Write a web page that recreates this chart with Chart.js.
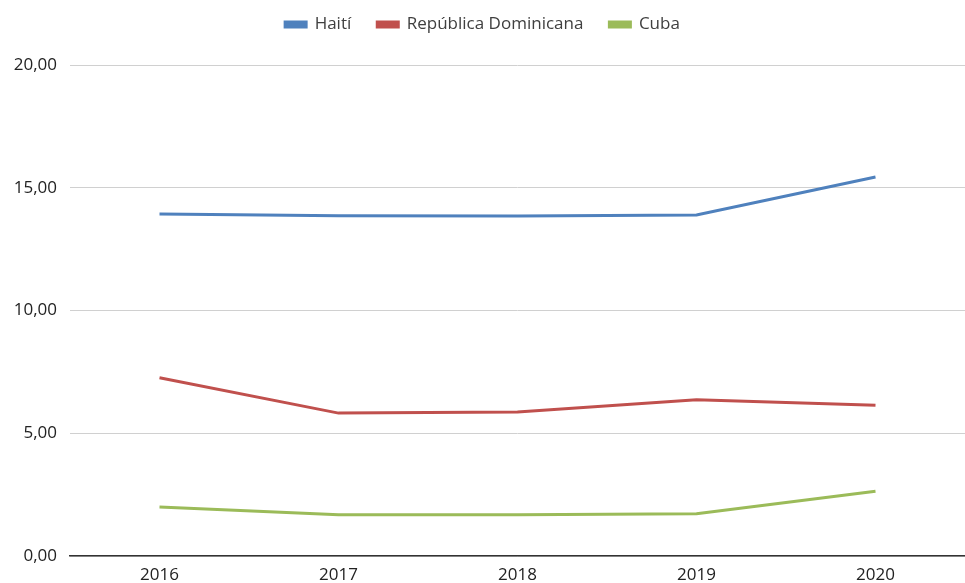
<!DOCTYPE html>
<html>
<head>
<meta charset="utf-8">
<script src="https://cdn.jsdelivr.net/npm/chart.js@4"></script>
<style>
  html, body { margin: 0; padding: 0; background: #fff; }
  #wrap { width: 965px; height: 583px; }
</style>
</head>
<body>
<div id="wrap"><canvas id="myChart"></canvas></div>
<script>
const years = ["2016", "2017", "2018", "2019", "2020"];
const haiti = [13.93, 13.86, 13.85, 13.89, 15.44];
const repDominicana = [7.26, 5.82, 5.87, 6.36, 6.14];
const cuba = [2.0, 1.68, 1.68, 1.72, 2.64];

// push the plot down a bit below the legend
const legendMargin = {
  id: "legendMargin",
  beforeInit(chart) {
    const origFit = chart.legend.fit;
    chart.legend.fit = function () {
      origFit.bind(chart.legend)();
      this.height += 22;
    };
  },
};

const ctx = document.getElementById("myChart").getContext("2d");
new Chart(ctx, {
  type: "line",
  data: {
    labels: years,
    datasets: [
      { label: "Haití", data: haiti, borderColor: "#4F81BD", backgroundColor: "#4F81BD" },
      { label: "República Dominicana", data: repDominicana, borderColor: "#C0504D", backgroundColor: "#C0504D" },
      { label: "Cuba", data: cuba, borderColor: "#9BBB59", backgroundColor: "#9BBB59" },
    ],
  },
  options: {
    responsive: true,
    maintainAspectRatio: false,
    animation: false,
    elements: {
      line: { borderWidth: 3, tension: 0 },
      point: { radius: 0 },
    },
    layout: { padding: { top: -10, right: 0, left: 0, bottom: 0 } },
    plugins: {
      legend: {
        position: "top",
        labels: {
          boxWidth: 21,
          boxHeight: 5,
          padding: 26,
          color: "#404040",
          font: { family: "Open Sans", size: 17 },
        },
      },
      tooltip: { enabled: false },
    },
    scales: {
      x: {
        offset: true,
        grid: { display: false, drawTicks: false },
        border: { color: "#333", width: 1.5 },
        ticks: { color: "#222", padding: 9, font: { family: "Open Sans", size: 17 } },
        afterFit: function (scale) { scale.height = 27; },
      },
      y: {
        min: 0,
        max: 20,
        ticks: {
          stepSize: 5,
          padding: 13,
          color: "#222",
          font: { family: "Open Sans", size: 17 },
          callback: function (v) { return v.toFixed(2).replace(".", ","); },
        },
        grid: { color: "#d0d0d0", drawTicks: false },
        border: { display: false },
        afterFit: function (scale) { scale.width = 70; },
      },
    },
  },
  plugins: [legendMargin],
});
</script>
</body>
</html>
